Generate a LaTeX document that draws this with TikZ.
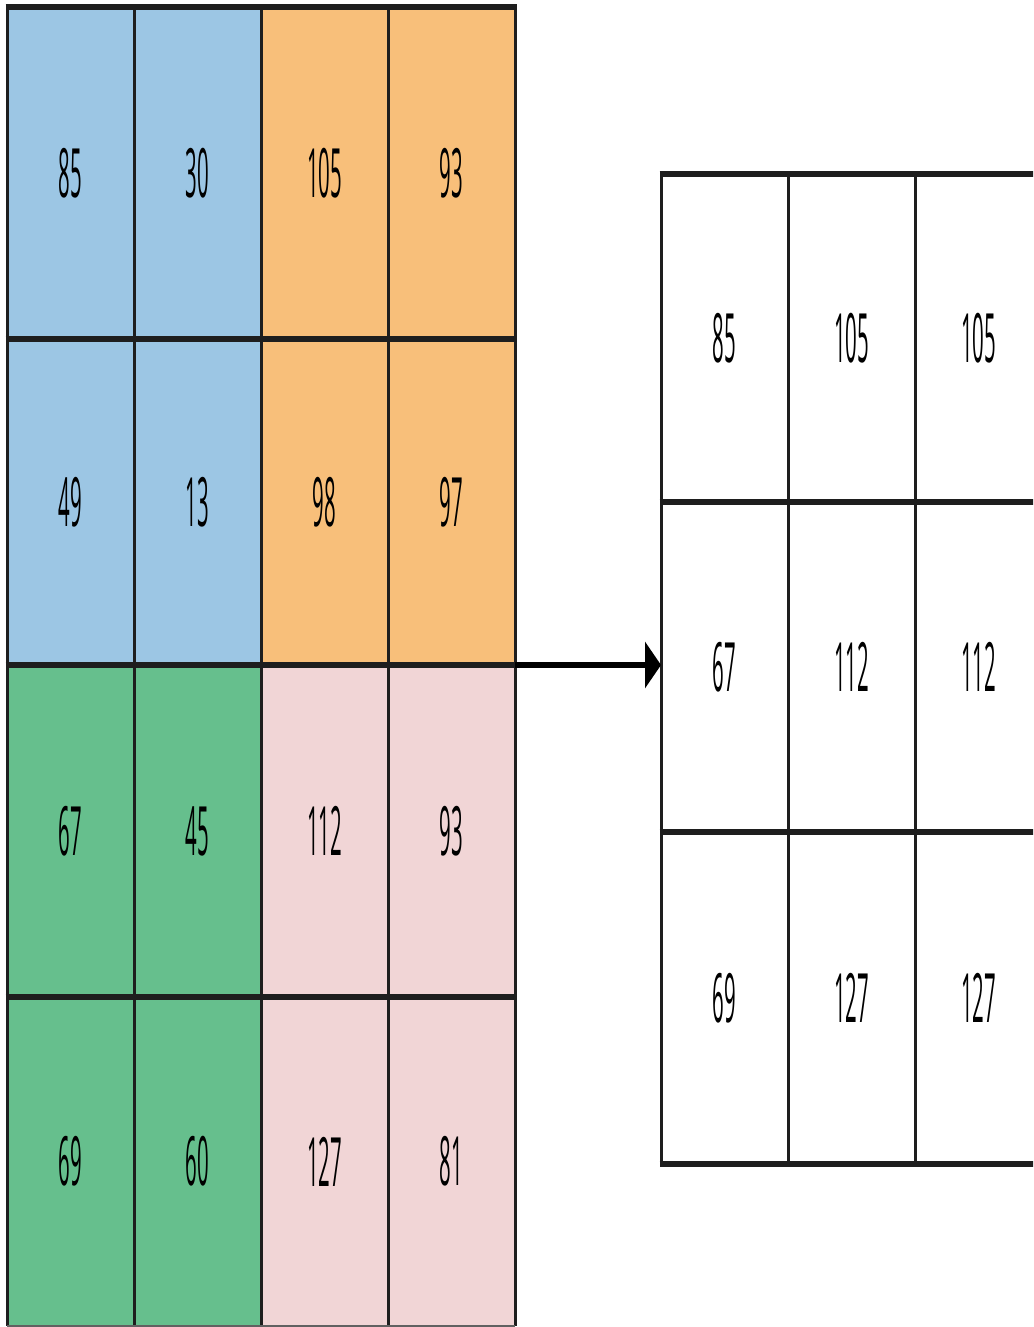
\documentclass[tikz,border=0pt]{standalone}
\usepackage{fontspec}
\newfontfamily\condfont[FakeStretch=0.3]{Open Sans}
\usetikzlibrary{arrows.meta}
\definecolor{cblue}{HTML}{9CC6E4}
\definecolor{corange}{HTML}{F8BF7A}
\definecolor{cgreen}{HTML}{66BF8D}
\definecolor{cpink}{HTML}{F1D5D6}
\definecolor{cline}{HTML}{1E1E1E}
\begin{document}
\begin{tikzpicture}[x=1pt,y=-1pt,
  cell/.style={rectangle, inner sep=0pt, outer sep=0pt, minimum width=127pt,
    font=\fontsize{68pt}{70pt}\selectfont\condfont, text=black},
  rowA/.style={minimum height=332pt},
  rowB/.style={minimum height=326pt},
  rowC/.style={minimum height=332pt},
  rowD/.style={minimum height=329pt},
  rrowA/.style={minimum height=328pt},
  rrowB/.style={minimum height=330pt},
  rrowC/.style={minimum height=332pt},
  hline/.style={draw=cline, line width=6pt},
  vline/.style={draw=cline, line width=3pt},
  arr/.style={draw=black, line width=5.5pt, -{Triangle[length=16pt,width=46pt]}}
]
\useasboundingbox (0,0) rectangle (1033,1327);
\clip (0,0) rectangle (1033,1327);
\fill[white] (0,0) rectangle (1033,1327);

% left grid
\node[cell,rowA,fill=cblue]   (L11) at (70.5,173) {85};
\node[cell,rowA,fill=cblue]   (L12) at (197.5,173) {30};
\node[cell,rowA,fill=corange] (L13) at (324.5,173) {105};
\node[cell,rowA,fill=corange] (L14) at (451.5,173) {93};
\node[cell,rowB,fill=cblue]   (L21) at (70.5,502) {49};
\node[cell,rowB,fill=cblue]   (L22) at (197.5,502) {13};
\node[cell,rowB,fill=corange] (L23) at (324.5,502) {98};
\node[cell,rowB,fill=corange] (L24) at (451.5,502) {97};
\node[cell,rowC,fill=cgreen]  (L31) at (70.5,831) {67};
\node[cell,rowC,fill=cgreen]  (L32) at (197.5,831) {45};
\node[cell,rowC,fill=cpink]   (L33) at (324.5,831) {112};
\node[cell,rowC,fill=cpink]   (L34) at (451.5,831) {93};
\node[cell,rowD,fill=cgreen]  (L41) at (70.5,1161.5) {69};
\node[cell,rowD,fill=cgreen]  (L42) at (197.5,1161.5) {60};
\node[cell,rowD,fill=cpink]   (L43) at (324.5,1161.5) {127};
\node[cell,rowD,fill=cpink]   (L44) at (451.5,1161.5) {81};

% right grid
\node[cell,rrowA] (R11) at (724.5,338) {85};
\node[cell,rrowA] (R12) at (851.5,338) {105};
\node[cell,rrowA] (R13) at (978.5,338) {105};
\node[cell,rrowB] (R21) at (724.5,667) {67};
\node[cell,rrowB] (R22) at (851.5,667) {112};
\node[cell,rrowB] (R23) at (978.5,667) {112};
\node[cell,rrowC] (R31) at (724.5,998) {69};
\node[cell,rrowC] (R32) at (851.5,998) {127};
\node[cell,rrowC] (R33) at (978.5,998) {127};

% left grid lines
\foreach \c in {1,2,3,4}{
  \draw[vline] (L1\c.north west) -- (L4\c.south west);
}
\draw[vline] (L14.north east) -- (L44.south east);
\draw[hline] ([xshift=-1.5pt]L11.north west) -- ([xshift=1.5pt]L14.north east);
\foreach \r in {1,2,3}{
  \draw[hline] ([xshift=-1.5pt]L\r1.south west) -- ([xshift=1.5pt]L\r4.south east);
}
\draw[draw=cline!70, line width=1.5pt] (L41.south west) -- (L44.south east);

% right grid lines
\foreach \c in {1,2,3}{
  \draw[vline] (R1\c.north west) -- (R3\c.south west);
}
\draw[vline] (R13.north east) -- (R33.south east);
\draw[hline] ([xshift=-1.5pt]R11.north west) -- (R13.north east);
\foreach \r in {1,2,3}{
  \draw[hline] ([xshift=-1.5pt]R\r1.south west) -- (R\r3.south east);
}

% arrow
\coordinate (astart) at (L24.south east);
\draw[arr] (astart) -- (astart -| R21.west);
\end{tikzpicture}
\end{document}
